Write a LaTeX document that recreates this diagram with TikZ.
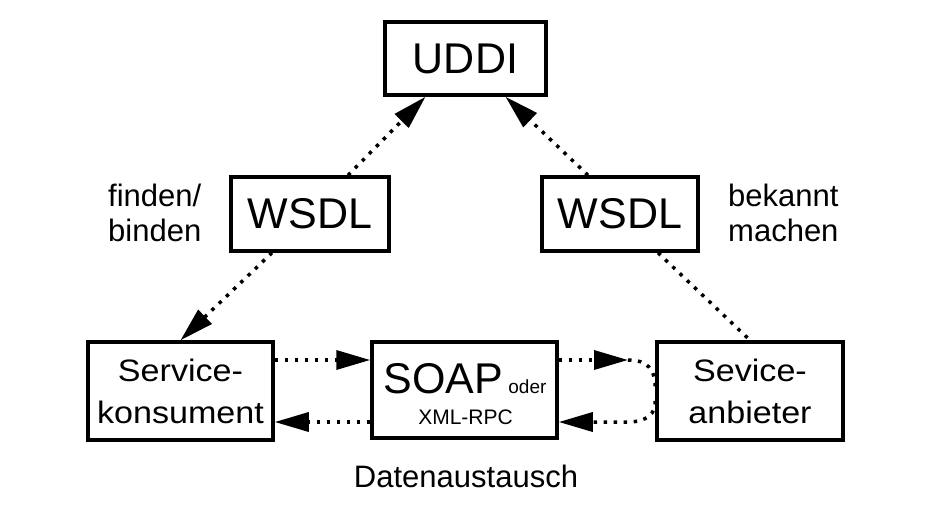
\documentclass[tikz,border=0pt]{standalone}
\usepackage{fontspec}
\setmainfont{Liberation Sans}
\newfontfamily\widefont[FakeStretch=1.1]{Liberation Sans}
\usetikzlibrary{arrows.meta,calc}
\begin{document}
\begin{tikzpicture}[x=1pt,y=-1pt,
  box/.style={draw,line width=3.5pt,inner sep=0pt,align=center},
  dotline/.style={line width=3.5pt,dash pattern=on 3.5pt off 6.5pt},
  arr/.style={-{Triangle[length=34pt,width=19pt]}},
  big/.style={font=\fontsize{43}{50}\selectfont},
  two/.style={font=\widefont\fontsize{31}{42}\selectfont},
  lbl/.style={font=\fontsize{31}{35}\selectfont,align=left,inner sep=0pt}]
\useasboundingbox[fill=white] (0,0) rectangle (936,517);
% boxes
\node[box,big,minimum width=161pt,minimum height=73pt] (uddi) at (465.5,58.5) {UDDI};
\node[box,big,minimum width=158pt,minimum height=74pt] (wsdlL) at (310,214) {WSDL};
\node[box,big,minimum width=156pt,minimum height=74pt] (wsdlR) at (620,214) {WSDL};
\node[box,two,minimum width=185pt,minimum height=98pt] (kons) at (180.5,391) {Service-\\konsument};
\node[box,minimum width=185pt,minimum height=96pt] (soap) at (464.5,390) {};
\node[box,two,minimum width=186pt,minimum height=98pt] (anb) at (750,391) {Sevice-\\anbieter};
% text inside SOAP box
\node[anchor=base,inner sep=0pt] (soaptxt) at (465,393) {\fontsize{43}{50}\selectfont SOAP{\fontsize{19}{22}\selectfont\ oder}};
\node[anchor=base,inner sep=0pt] (xmltxt) at (465.5,424) {\fontsize{21}{25}\selectfont XML-RPC};
% labels
\node[lbl,anchor=west] (find) at (108,213) {finden/\\binden};
\node[lbl,anchor=west] (bek) at (728,213) {bekannt\\machen};
\node[anchor=base,inner sep=0pt,font=\fontsize{31}{35}\selectfont] (daten) at (466,487) {Datenaustausch};
% connectors
\draw[dotline,arr] ([xshift=38pt]wsdlL.north) -- ([xshift=-40pt]uddi.south);
\draw[dotline,arr] ([xshift=-32pt]wsdlR.north) -- ([xshift=40pt]uddi.south);
\draw[dotline,arr] ([xshift=-38pt]wsdlL.south) -- (kons.north);
\draw[dotline] ([xshift=38pt]wsdlR.south) -- (anb.north);
\coordinate (k1) at ([yshift=31pt]kons.east);
\coordinate (k2) at ([yshift=-31pt]kons.east);
\draw[dotline,arr] (k1) -- (k1 -| soap.west);
\draw[dotline,arr] (k2 -| soap.west) -- (k2);
\coordinate (mt) at (628,360);
\coordinate (mb) at (628,422);
\draw[dotline,arr] (mt -| soap.east) -- (mt);
\draw[dotline] (mt) .. controls (648,360) and (655,370) .. ([yshift=4pt]anb.west);
\draw[dotline,arr] ([yshift=-10pt]anb.west) .. controls (656,414) and (646,422) .. (mb) -- (mb -| soap.east);
\end{tikzpicture}
\end{document}
